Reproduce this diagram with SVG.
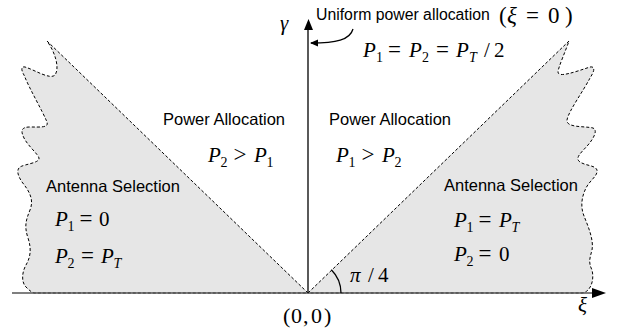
<svg xmlns="http://www.w3.org/2000/svg" width="621" height="334" viewBox="0 0 621 334">
<defs>
<style>
.region{fill:#e6e6e6;stroke:#000;stroke-width:1;stroke-dasharray:3,2;}
.lbl{font-family:"Liberation Sans",Arial,sans-serif;font-size:16.5px;fill:#000;}
.m{font-family:"Liberation Serif","Times New Roman",serif;font-size:21px;fill:#000;}
.i{font-style:italic;}
.s{font-size:14px;}
.eq{font-size:23px;}
.axis{stroke:#000;stroke-width:1.3;fill:none;}
</style>
<marker id="ah" markerWidth="8" markerHeight="8" refX="7" refY="4" orient="auto" markerUnits="userSpaceOnUse">
<path d="M0,0.5 L8,4 L0,7.5 Z" fill="#000"/>
</marker>
</defs>
<rect width="621" height="334" fill="#fff"/>

<g id="left-region">
<path class="region" d="M308,293 L47,41 C55,52 60,68 55,75 C50,80 35,70 25,67 C20,66 22,72 24,75 C30,90 42,110 47,122 C49,128 40,127 30,127 C22,127 20,130 24,138 C28,146 38,154 39,158 C40,163 25,164 20,167 C16,170 18,176 22,182 C30,192 34,200 30,210 C26,220 24,226 28,238 C32,250 30,258 26,265 C22,272 21,282 26,287 C29,290 31,292 34,293 Z"/>
<text class="lbl" x="46" y="192">Antenna Selection</text>
<text class="m"><tspan class="i" x="55" y="226">P</tspan><tspan class="s" x="67.5" y="231">1</tspan><tspan class="eq" x="79.5" y="226">=</tspan><tspan x="99" y="226">0</tspan></text>
<text class="m"><tspan class="i" x="55" y="263">P</tspan><tspan class="s" x="67.5" y="268">2</tspan><tspan class="eq" x="81" y="263">=</tspan><tspan class="i" x="101" y="263">P</tspan><tspan class="s i" x="113.5" y="268">T</tspan></text>
</g>

<g id="right-region">
<path class="region" d="M308,293 L569,41 C566,50 558,68 558,72 C558,78 575,72 590,67 C596,66 594,72 590,78 C584,90 568,112 567,120 C566,128 585,126 593,128 C598,130 594,138 588,145 C582,152 574,158 580,162 C586,166 595,165 597,170 C598,176 590,180 586,188 C582,196 580,206 584,216 C588,226 594,240 592,250 C590,258 588,262 592,270 C594,278 592,286 588,290 C586,292 584,293 582,293 Z"/>
<text class="lbl" x="444" y="191">Antenna Selection</text>
<text class="m"><tspan class="i" x="454" y="227">P</tspan><tspan class="s" x="466.5" y="232">1</tspan><tspan class="eq" x="478.5" y="227">=</tspan><tspan class="i" x="499" y="227">P</tspan><tspan class="s i" x="511.5" y="232">T</tspan></text>
<text class="m"><tspan class="i" x="454" y="261">P</tspan><tspan class="s" x="466.5" y="266">2</tspan><tspan class="eq" x="478.5" y="261">=</tspan><tspan x="499" y="261">0</tspan></text>
</g>

<g id="left-power">
<text class="lbl" x="163" y="125">Power Allocation</text>
<text class="m"><tspan class="i" x="208" y="162">P</tspan><tspan class="s" x="220.5" y="167">2</tspan><tspan class="eq" x="233.5" y="162">&gt;</tspan><tspan class="i" x="254" y="162">P</tspan><tspan class="s" x="266.5" y="167">1</tspan></text>
</g>

<g id="right-power">
<text class="lbl" x="329" y="125">Power Allocation</text>
<text class="m"><tspan class="i" x="336" y="162">P</tspan><tspan class="s" x="348.5" y="167">1</tspan><tspan class="eq" x="361.5" y="162">&gt;</tspan><tspan class="i" x="382" y="162">P</tspan><tspan class="s" x="394.5" y="167">2</tspan></text>
</g>

<g id="uniform">
<text class="lbl" x="316" y="20" style="font-size:15.8px">Uniform power allocation</text>
<text class="m" style="font-size:23px"><tspan x="499" y="23">(</tspan><tspan class="i" x="507" y="23">ξ</tspan><tspan class="eq" x="526" y="23">=</tspan><tspan x="548" y="23">0</tspan><tspan x="565" y="23">)</tspan></text>
<text class="m"><tspan class="i" x="363" y="57">P</tspan><tspan class="s" x="376" y="62">1</tspan><tspan class="eq" x="388" y="57">=</tspan><tspan class="i" x="409" y="57">P</tspan><tspan class="s" x="422" y="62">2</tspan><tspan class="eq" x="436" y="57">=</tspan><tspan class="i" x="456" y="57">P</tspan><tspan class="s i" x="469" y="62">T</tspan><tspan x="484" y="57">/</tspan><tspan x="494" y="57">2</tspan></text>
</g>

<g id="connectors">
<line x1="12" y1="293" x2="596" y2="293" stroke="#555" stroke-width="1.6"/>
<polygon points="592,288 606,293 592,298" fill="#000"/>
<line class="axis" x1="308" y1="293" x2="308" y2="28"/>
<polygon points="304,30 308.5,19 313,30" fill="#000"/>
<path class="axis" d="M353,29 C350,40 336,43 311,43" marker-end="url(#ah)"/>
<path class="axis" d="M341,293 A33,33 0 0 0 331.3,269.7"/>
</g>

<g id="axis-labels">
<text class="m i" x="280" y="30">γ</text>
<text class="m i" x="578" y="312">ξ</text>
<text class="m" style="font-size:22px"><tspan x="283" y="323">(</tspan><tspan x="291" y="323">0</tspan><tspan x="303" y="323">,</tspan><tspan x="311" y="323">0</tspan><tspan x="324" y="323">)</tspan></text>
<text class="m"><tspan class="i" x="350" y="282">π</tspan><tspan x="368" y="282">/</tspan><tspan x="378" y="282">4</tspan></text>
</g>
</svg>
